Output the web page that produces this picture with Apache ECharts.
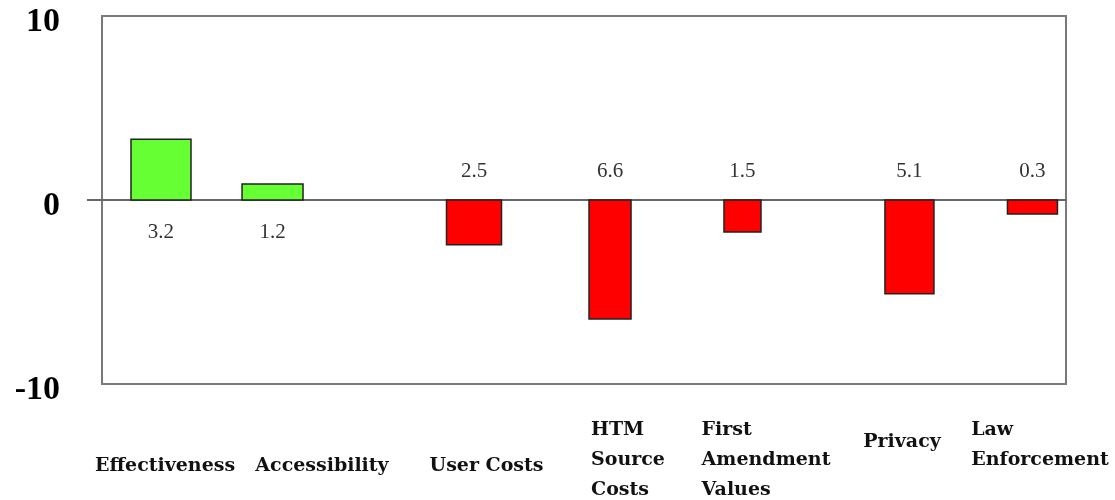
<!DOCTYPE html>
<html>
<head>
<meta charset="utf-8">
<script src="https://cdn.jsdelivr.net/npm/echarts@6/dist/echarts.min.js"></script>
<style>
  html, body { margin: 0; padding: 0; background: #fff; }
  #chart { width: 1115px; height: 500px; }
</style>
</head>
<body>
<div id="chart"></div>
<script>
// categories along the bottom
var categories = ['Effectiveness', 'Accessibility', 'User Costs', 'HTM\nSource\nCosts',
  'First\nAmendment\nValues', 'Privacy', 'Law\nEnforcement'];
// where each bar sits on the (hidden) 0..100 horizontal scale
var barSlots = [6.12, 17.69, 38.59, 52.70, 66.44, 83.76, 96.52];
// where each category name sits on that same scale
var labelSlots = [6.54, 22.82, 39.89, 54.56, 68.88, 82.99, 97.30];
// bar heights as drawn
var barValues = [3.3, 0.87, -2.43, -6.47, -1.74, -5.1, -0.76];
// numbers printed next to the bars
var valueLabels = ['3.2', '1.2', '2.5', '6.6', '1.5', '5.1', '0.3'];
var yTicks = [-10, 0, 10];

// style only
var barWidthsPx = [60, 61, 55, 42, 37, 49, 50];
var labelRows = ['low', 'low', 'low', 'top', 'top', 'mid', 'top'];

var myChart = echarts.init(document.getElementById('chart'));

function labelIndex(v) {
  var best = 0;
  for (var i = 1; i < labelSlots.length; i++) {
    if (Math.abs(labelSlots[i] - v) < Math.abs(labelSlots[best] - v)) best = i;
  }
  return best;
}

var option = {
  backgroundColor: '#fff',
  animation: false,
  grid: {
    left: 102, right: 49, top: 16, bottom: 116,
    show: true, borderColor: '#7a7a7a', borderWidth: 2, backgroundColor: 'transparent'
  },
  xAxis: [
    {
      type: 'value', min: 0, max: 100, position: 'bottom',
      axisLine: { show: false, onZero: false },
      axisTick: { show: false },
      splitLine: { show: false },
      axisLabel: {
        customValues: labelSlots,
        margin: 31,
        align: 'center',
        verticalAlign: 'top',
        formatter: function (v) {
          var i = labelIndex(v);
          var key = labelRows[i];
          return categories[i].split('\n').map(function (s) {
            return '{' + key + '|' + s + '}';
          }).join('\n');
        },
        rich: {
          low: { fontFamily: 'DejaVu Serif', fontWeight: 'bold', fontSize: 19, color: '#111', lineHeight: 102 },
          mid: { fontFamily: 'DejaVu Serif', fontWeight: 'bold', fontSize: 19, color: '#111', lineHeight: 54 },
          top: { fontFamily: 'DejaVu Serif', fontWeight: 'bold', fontSize: 19, color: '#111', lineHeight: 30, align: 'left' }
        }
      }
    },
    {
      // zero line
      type: 'value', min: 0, max: 100, position: 'top',
      axisLine: { show: true, onZero: true, lineStyle: { color: '#666', width: 2 } },
      axisTick: { show: false },
      axisLabel: { show: false },
      splitLine: { show: false }
    }
  ],
  yAxis: {
    type: 'value', min: -10, max: 10, interval: 10,
    axisLine: { show: false },
    splitLine: { show: false },
    axisTick: { show: true, customValues: [0], length: 15, lineStyle: { color: '#666', width: 2 } },
    axisLabel: {
      customValues: yTicks,
      fontFamily: 'Liberation Serif', fontWeight: 'bold', fontSize: 34, color: '#000',
      margin: 42, verticalAlign: 'top', lineHeight: 13
    }
  },
  series: [
    {
      type: 'custom',
      xAxisIndex: 0,
      yAxisIndex: 0,
      encode: { x: 0, y: 1 },
      data: barSlots.map(function (s, i) { return [s, barValues[i], i]; }),
      renderItem: function (params, api) {
        var x = api.value(0), v = api.value(1), i = api.value(2);
        var base = api.coord([x, 0]);
        var top = api.coord([x, v]);
        var w = barWidthsPx[i];
        return {
          type: 'group',
          children: [
            {
              type: 'rect',
              shape: {
                x: base[0] - w / 2,
                y: Math.min(base[1], top[1]),
                width: w,
                height: Math.abs(top[1] - base[1])
              },
              style: { fill: v >= 0 ? '#66ff33' : '#ff0000', stroke: '#222', lineWidth: 1.5 }
            },
            {
              type: 'text',
              x: base[0],
              y: base[1] + (v >= 0 ? 32 : -29),
              style: {
                text: valueLabels[i],
                fill: '#333',
                fontFamily: 'Liberation Serif',
                fontSize: 21,
                align: 'center',
                verticalAlign: 'middle'
              }
            }
          ]
        };
      }
    }
  ]
};

option && myChart.setOption(option);
</script>
</body>
</html>
